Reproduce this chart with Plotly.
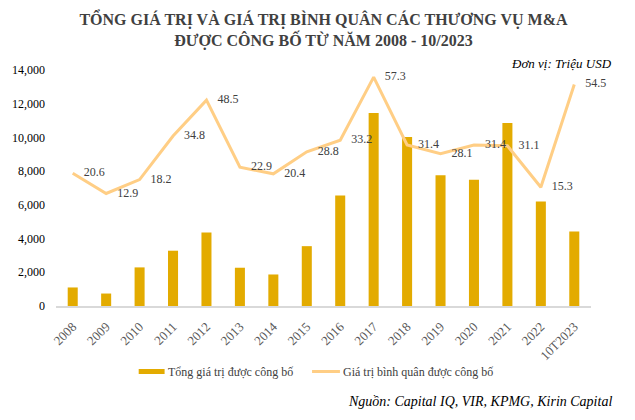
import plotly.graph_objects as go

categories = ["2008", "2009", "2010", "2011", "2012", "2013", "2014", "2015",
              "2016", "2017", "2018", "2019", "2020", "2021", "2022", "10T2023"]
total_value = [1100, 740, 2290, 3280, 4360, 2270, 1870, 3550,
               6560, 11450, 10020, 7750, 7490, 10850, 6200, 4420]
avg_value = [20.6, 12.9, 18.2, 34.8, 48.5, 22.9, 20.4, 28.8,
             33.2, 57.3, 31.4, 28.1, 31.4, 31.1, 15.3, 54.5]
y_ticks = [0, 2000, 4000, 6000, 8000, 10000, 12000, 14000]

BAR_COLOR = "#E3AB00"
LINE_COLOR = "#FFCE85"
SERIF = "Liberation Serif"

PL, PR, PT, PB = 54, 44, 70, 114
W, H = 635, 420
PW, PH = W - PL - PR, H - PT - PB


def px(x):
    return (x - PL) / PW


def py(y):
    return (H - PB - y) / PH


fig = go.Figure()
fig.add_trace(go.Bar(
    x=categories, y=total_value, name="Tổng giá trị được công bố",
    marker=dict(color=BAR_COLOR, line=dict(width=0)), yaxis="y",
))
fig.add_trace(go.Scatter(
    x=categories, y=avg_value, name="Giá trị bình quân được công bố",
    mode="lines+markers+text", yaxis="y2",
    line=dict(color=LINE_COLOR, width=3),
    marker=dict(size=16, color="rgba(0,0,0,0)"),
    text=[f"{v:.1f}" for v in avg_value], textposition="middle right",
    textfont=dict(family=SERIF, size=12, color="#404040"),
    cliponaxis=False,
))

fig.update_layout(
    width=W, height=H,
    margin=dict(l=PL, r=PR, t=PT, b=PB),
    paper_bgcolor="white", plot_bgcolor="white",
    showlegend=False, bargap=0.7,
    font=dict(family=SERIF, color="#000000"),
    title=dict(
        text="<b>TỔNG GIÁ TRỊ VÀ GIÁ TRỊ BÌNH QUÂN CÁC THƯƠNG VỤ M&A<br>ĐƯỢC CÔNG BỐ TỪ NĂM 2008 - 10/2023</b>",
        x=0.5, xanchor="center", xref="paper", yref="container", y=0.94, yanchor="top",
        font=dict(family=SERIF, size=16, color="#404040"),
    ),
    xaxis=dict(
        type="category", range=[-0.5, len(categories) - 0.5], autorange=False,
        tickangle=-45, showgrid=False, ticks="",
        showline=True, linecolor="#D9D9D9", linewidth=2,
        tickfont=dict(family=SERIF, size=13, color="#595959"),
        ticklabelstandoff=6,
    ),
    yaxis=dict(
        range=[0, 14000], tickvals=y_ticks, tickformat=",",
        showgrid=False, zeroline=False, showline=False, ticks="",
        tickfont=dict(family=SERIF, size=12, color="#000000"),
        ticklabelstandoff=10,
    ),
    yaxis2=dict(
        range=[-30, 60], overlaying="y", side="right", visible=False,
        showgrid=False, zeroline=False,
    ),
)

# Unit note
fig.add_annotation(text="<i>Đơn vị: Triệu USD</i>", xref="paper", yref="paper",
                   x=px(614), y=py(63), xanchor="right", yanchor="middle", showarrow=False,
                   font=dict(family=SERIF, size=13, color="#000000"))
# Legend (manual)
fig.add_shape(type="rect", xref="paper", yref="paper",
              x0=px(137), x1=px(163), y0=py(369), y1=py(374),
              fillcolor=BAR_COLOR, line=dict(width=0))
fig.add_annotation(text="Tổng giá trị được công bố", xref="paper", yref="paper",
                   x=px(164), y=py(372), xanchor="left", yanchor="middle",
                   showarrow=False, font=dict(family=SERIF, size=12, color="#404040"))
fig.add_shape(type="line", xref="paper", yref="paper",
              x0=px(311), x1=px(339), y0=py(371.5), y1=py(371.5),
              line=dict(color=LINE_COLOR, width=3))
fig.add_annotation(text="Giá trị bình quân được công bố", xref="paper", yref="paper",
                   x=px(340), y=py(372), xanchor="left", yanchor="middle",
                   showarrow=False, font=dict(family=SERIF, size=12, color="#404040"))
# Source
fig.add_annotation(text="<i>Nguồn: Capital IQ, VIR, KPMG, Kirin Capital</i>", xref="paper", yref="paper",
                   x=px(614), y=py(401), xanchor="right", yanchor="middle",
                   showarrow=False, font=dict(family=SERIF, size=14, color="#000000"))

fig.write_html("out.html", config={"displayModeBar": False},
               post_script="document.body.style.margin='0';document.body.style.overflow='hidden';")
